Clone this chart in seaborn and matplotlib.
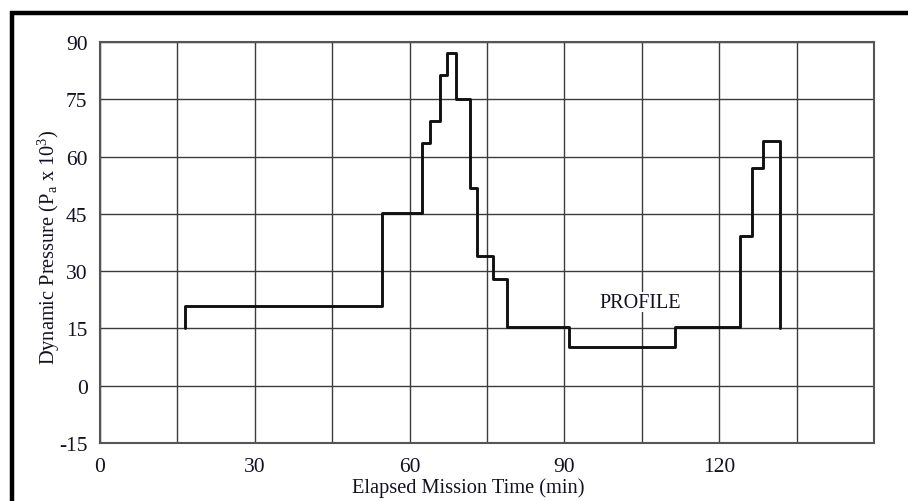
import matplotlib
matplotlib.use("Agg")
import matplotlib.pyplot as plt
from matplotlib.lines import Line2D
import seaborn as sns
import pandas as pd

# Step profile: each point starts a level held until the next time
times = [16.5, 16.5, 54.7, 62.5, 64.0, 65.9, 67.3, 69.0, 71.7, 73.1, 76.1,
         78.8, 90.8, 111.4, 124.0, 126.3, 128.4, 131.8]
pressures = [15.2, 21.0, 45.2, 63.6, 69.4, 81.4, 87.2, 75.0, 51.8, 34.0, 28.0,
             15.3, 10.1, 15.3, 39.1, 57.1, 64.0, 15.2]
x_ticks = [0, 15, 30, 45, 60, 75, 90, 105, 120, 135, 150]
x_tick_labels = ["0", "", "30", "", "60", "", "90", "", "120", "", ""]
y_ticks = [-15, 0, 15, 30, 45, 60, 75, 90]
y_tick_labels = ["-15", "0", "15", "30", "45", "60", "75", "90"]

sns.set_theme(style="white")
plt.rcParams["font.family"] = ["Liberation Serif", "DejaVu Serif"]
plt.rcParams["mathtext.fontset"] = "custom"
plt.rcParams["mathtext.rm"] = "Liberation Serif"
plt.rcParams["mathtext.it"] = "Liberation Serif"

fig = plt.figure(figsize=(9.08, 5.02), dpi=100)
fig.patch.set_facecolor("white")
ax = fig.add_axes([100 / 908, 1 - 444 / 502, 774 / 908, 401 / 502])

df = pd.DataFrame({"time": times, "pressure": pressures})
sns.lineplot(data=df, x="time", y="pressure", ax=ax, sort=False, estimator=None,
             drawstyle="steps-post", color="#111111", linewidth=2.1, zorder=3)

ax.set_xlim(0, 150)
ax.set_ylim(-15, 90)
ax.set_xticks(x_ticks)
ax.set_xticklabels(x_tick_labels)
ax.set_yticks(y_ticks)
ax.set_yticklabels(y_tick_labels)
ax.grid(True, color="#3c3c3c", linewidth=1.0)
ax.tick_params(axis="both", length=0, labelsize=15.5, colors="#111122")
ax.tick_params(axis="x", pad=10)
ax.tick_params(axis="y", pad=9)
for s in ax.spines.values():
    s.set_color("#555555")
    s.set_linewidth(1.5)

ax.set_xlabel("Elapsed Mission Time (min)", fontsize=14.7, color="#111122")
ax.set_ylabel(r"Dynamic Pressure (P$_{\mathrm{a}}$ x 10$^{3}$)", fontsize=14.7, color="#111122")
ax.xaxis.set_label_coords((468 - 100) / 774, -(478 - 444) / 401)
ax.yaxis.set_label_coords(-(100 - 62) / 774, 0.49)

ax.text(104.7, 21.9, "PROFILE", fontsize=14.5, ha="center", va="center", color="#111122",
        bbox=dict(facecolor="white", edgecolor="none", pad=0.5), zorder=4)

# thick frame (top and left edges visible)
fig.add_artist(Line2D([10 / 908, 1.0], [1 - 14 / 502, 1 - 14 / 502], color="black",
                      linewidth=3.2, solid_capstyle="butt", transform=fig.transFigure))
fig.add_artist(Line2D([12 / 908, 12 / 908], [1 - 12 / 502, 0.0], color="black",
                      linewidth=3.2, solid_capstyle="butt", transform=fig.transFigure))

fig.savefig("out.png", dpi=100)
